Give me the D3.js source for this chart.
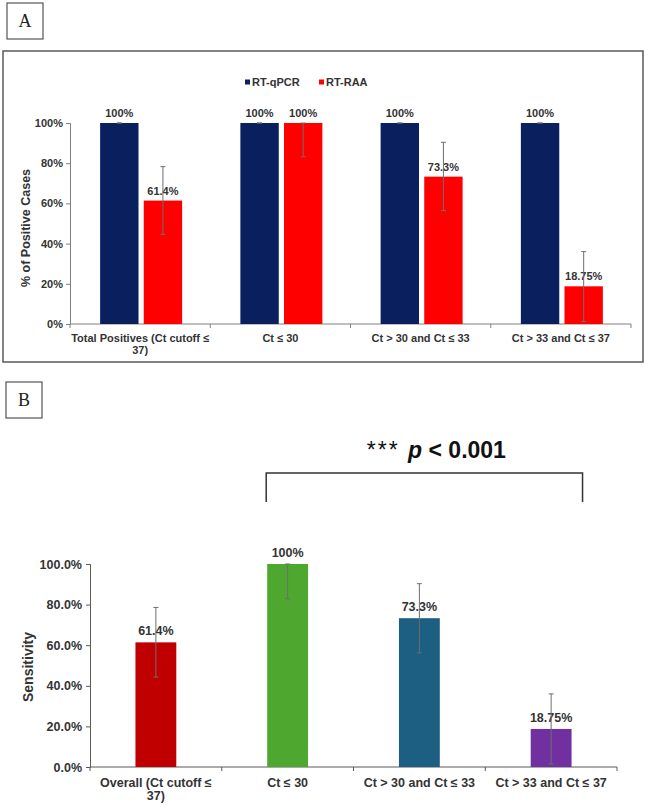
<!DOCTYPE html>
<html>
<head>
<meta charset="utf-8">
<script src="https://cdn.jsdelivr.net/npm/d3@7"></script>
<style>
  body { margin: 0; background: #fff; }
  svg { display: block; }
</style>
</head>
<body>
<div id="chart"></div>
<script>
// Panel A data
const categoriesA = ["Total Positives (Ct cutoff ≤\n37)", "Ct ≤ 30", "Ct > 30 and Ct ≤ 33", "Ct > 33 and Ct ≤ 37"];
const seriesA = ["RT-qPCR", "RT-RAA"];
const qpcrValues = [100, 100, 100, 100];
const qpcrLabels = ["100%", "100%", "100%", "100%"];
const raaValues = [61.4, 100, 73.3, 18.75];
const raaLabels = ["61.4%", "100%", "73.3%", "18.75%"];
const raaLow = [44.6, 83.2, 56.4, 1.2];
const raaHigh = [78.3, 100, 90.4, 36];
const ticksA = [0, 20, 40, 60, 80, 100];

// Panel B data
const categoriesB = ["Overall (Ct cutoff ≤\n37)", "Ct ≤ 30", "Ct > 30 and Ct ≤ 33", "Ct > 33 and Ct ≤ 37"];
const sensValues = [61.4, 100, 73.3, 18.75];
const sensLabels = ["61.4%", "100%", "73.3%", "18.75%"];
const sensLow = [44.3, 82.9, 56.2, 1.5];
const sensHigh = [78.6, 100, 90.3, 36];
const ticksB = [0, 20, 40, 60, 80, 100];
const pLabel = "p < 0.001";

const width = 650, height = 809;
const font = "'Liberation Sans', Arial, sans-serif";
const textColor = "#333";
const axisColor = "#808080";

const svg = d3.select("#chart").append("svg")
  .attr("width", width)
  .attr("height", height)
  .attr("font-family", font);

// panel letter boxes
function letterBox(x, y, s, letter) {
  svg.append("rect")
    .attr("x", x).attr("y", y).attr("width", s).attr("height", s)
    .attr("fill", "none").attr("stroke", "#555").attr("stroke-width", 1.2);
  svg.append("text")
    .attr("x", x + s / 2).attr("y", y + s / 2)
    .attr("dy", "0.36em")
    .attr("text-anchor", "middle")
    .attr("font-family", "'Liberation Serif', 'Times New Roman', serif")
    .attr("font-size", 18)
    .attr("fill", "#222")
    .text(letter);
}

letterBox(7, 3, 36, "A");
letterBox(6, 382, 36, "B");

// ---------------- Panel A ----------------
svg.append("rect")
  .attr("x", 3).attr("y", 51).attr("width", 640).attr("height", 311)
  .attr("fill", "none").attr("stroke", "#595959").attr("stroke-width", 1.5);

const colorA = d3.scaleOrdinal().domain(seriesA).range(["#0a1f5e", "#ff0000"]);

const xA = d3.scaleBand().domain(categoriesA).range([70, 631]);
const xA1 = d3.scaleBand().domain(seriesA)
  .range([xA.bandwidth() / 2 - 40, xA.bandwidth() / 2 + 42])
  .paddingInner(0.12);
const yA = d3.scaleLinear().domain([0, 100]).range([324, 123]);

const rowsA = categoriesA.map((c, i) => ({
  cat: c,
  bars: [
    { key: "RT-qPCR", value: qpcrValues[i], label: qpcrLabels[i], low: qpcrValues[i], high: qpcrValues[i] },
    { key: "RT-RAA", value: raaValues[i], label: raaLabels[i], low: raaLow[i], high: raaHigh[i] }
  ]
}));

// y axis
const yAxisA = svg.append("g")
  .attr("transform", "translate(70,0)")
  .call(d3.axisLeft(yA).tickValues(ticksA).tickSize(4).tickPadding(3).tickFormat(d => d + "%"));
yAxisA.select(".domain").attr("stroke", axisColor);
yAxisA.selectAll(".tick line").attr("stroke", axisColor);
yAxisA.selectAll(".tick text")
  .attr("font-family", font).attr("font-size", 11).attr("font-weight", "bold").attr("fill", textColor);

// x axis baseline and boundary ticks
svg.append("line")
  .attr("x1", 70).attr("x2", 631).attr("y1", yA(0)).attr("y2", yA(0))
  .attr("stroke", axisColor);
svg.append("g").selectAll("line")
  .data(d3.range(categoriesA.length + 1))
  .join("line")
  .attr("x1", i => 70 + i * xA.step()).attr("x2", i => 70 + i * xA.step())
  .attr("y1", yA(0)).attr("y2", yA(0) + 4)
  .attr("stroke", axisColor);

// category labels
svg.append("g").selectAll("text")
  .data(categoriesA)
  .join("text")
  .attr("text-anchor", "middle")
  .attr("font-size", 11).attr("font-weight", "bold").attr("fill", textColor)
  .each(function (d) {
    const t = d3.select(this);
    d.split("\n").forEach((line, k) => {
      t.append("tspan")
        .attr("x", xA(d) + xA.bandwidth() / 2)
        .attr("y", 342 + k * 11.5)
        .text(line);
    });
  });

// bars
const groupA = svg.append("g").selectAll("g")
  .data(rowsA)
  .join("g")
  .attr("transform", d => `translate(${xA(d.cat)},0)`);

groupA.selectAll("rect")
  .data(d => d.bars)
  .join("rect")
  .attr("x", d => xA1(d.key))
  .attr("width", xA1.bandwidth())
  .attr("y", d => yA(d.value))
  .attr("height", d => yA(0) - yA(d.value))
  .attr("fill", d => colorA(d.key));

groupA.selectAll("text.val")
  .data(d => d.bars)
  .join("text")
  .attr("class", "val")
  .attr("x", d => xA1(d.key) + xA1.bandwidth() / 2)
  .attr("y", d => yA(d.value) - 6)
  .attr("text-anchor", "middle")
  .attr("font-size", 11).attr("font-weight", "bold").attr("fill", textColor)
  .text(d => d.label);

// error bars
const errA = groupA.selectAll("g.err")
  .data(d => d.bars)
  .join("g")
  .attr("class", "err")
  .attr("stroke", "#6e6e6e")
  .attr("stroke-width", 1);
errA.append("line")
  .attr("x1", d => xA1(d.key) + xA1.bandwidth() / 2)
  .attr("x2", d => xA1(d.key) + xA1.bandwidth() / 2)
  .attr("y1", d => yA(d.low)).attr("y2", d => yA(d.high));
errA.selectAll("line.cap")
  .data(d => [d.low, d.high].map(v => ({ v, key: d.key })))
  .join("line")
  .attr("class", "cap")
  .attr("x1", d => xA1(d.key) + xA1.bandwidth() / 2 - 2.5)
  .attr("x2", d => xA1(d.key) + xA1.bandwidth() / 2 + 2.5)
  .attr("y1", d => yA(d.v)).attr("y2", d => yA(d.v));

// legend
const legendA = svg.append("g").attr("transform", "translate(245,82)");
const legItems = legendA.selectAll("g")
  .data(seriesA)
  .join("g")
  .attr("transform", (d, i) => `translate(${i * 74},0)`);
legItems.append("rect")
  .attr("x", 0).attr("y", -2.5).attr("width", 5).attr("height", 5)
  .attr("fill", d => colorA(d));
legItems.append("text")
  .attr("x", 7).attr("dy", "0.36em")
  .attr("font-size", 11).attr("font-weight", "bold").attr("fill", textColor)
  .text(d => d);

// y label
svg.append("text")
  .attr("transform", "translate(25,228) rotate(-90)")
  .attr("dy", "0.36em")
  .attr("text-anchor", "middle")
  .attr("font-size", 12.5).attr("font-weight", "bold").attr("fill", textColor)
  .text("% of Positive Cases");

// ---------------- Panel B ----------------
const colorsB = ["#c00000", "#4ea72e", "#1c5f82", "#7030a0"];
const xB = d3.scaleBand().domain(categoriesB).range([90, 617]).paddingInner(0.69).paddingOuter(0.345);
const yB = d3.scaleLinear().domain([0, 100]).range([767, 564]);
const stepB = (617 - 90) / categoriesB.length;

const rowsB = categoriesB.map((c, i) => ({
  cat: c, value: sensValues[i], label: sensLabels[i], low: sensLow[i], high: sensHigh[i], color: colorsB[i]
}));

const yAxisB = svg.append("g")
  .attr("transform", "translate(90,0)")
  .call(d3.axisLeft(yB).tickValues(ticksB).tickSize(4).tickPadding(4).tickFormat(d => d3.format(".1f")(d) + "%"));
yAxisB.select(".domain").attr("stroke", "#595959");
yAxisB.selectAll(".tick line").attr("stroke", "#595959");
yAxisB.selectAll(".tick text")
  .attr("font-family", font).attr("font-size", 12.5).attr("font-weight", "bold").attr("fill", textColor);

svg.append("line")
  .attr("x1", 90).attr("x2", 617).attr("y1", yB(0)).attr("y2", yB(0))
  .attr("stroke", "#595959");
svg.append("g").selectAll("line")
  .data(d3.range(categoriesB.length + 1))
  .join("line")
  .attr("x1", i => 90 + i * stepB).attr("x2", i => 90 + i * stepB)
  .attr("y1", yB(0)).attr("y2", yB(0) + 4)
  .attr("stroke", "#595959");

svg.append("g").selectAll("text")
  .data(categoriesB)
  .join("text")
  .attr("text-anchor", "middle")
  .attr("font-size", 12.5).attr("font-weight", "bold").attr("fill", textColor)
  .each(function (d) {
    const t = d3.select(this);
    d.split("\n").forEach((line, k) => {
      t.append("tspan")
        .attr("x", xB(d) + xB.bandwidth() / 2)
        .attr("y", 787 + k * 12.5)
        .text(line);
    });
  });

svg.append("g").selectAll("rect")
  .data(rowsB)
  .join("rect")
  .attr("x", d => xB(d.cat))
  .attr("width", xB.bandwidth())
  .attr("y", d => yB(d.value))
  .attr("height", d => yB(0) - yB(d.value))
  .attr("fill", d => d.color);

svg.append("g").selectAll("text")
  .data(rowsB)
  .join("text")
  .attr("x", d => xB(d.cat) + xB.bandwidth() / 2)
  .attr("y", d => yB(d.value) - 7)
  .attr("text-anchor", "middle")
  .attr("font-size", 12.5).attr("font-weight", "bold").attr("fill", textColor)
  .text(d => d.label);

const errB = svg.append("g")
  .attr("stroke", "#6e6e6e")
  .attr("stroke-width", 1)
  .selectAll("g")
  .data(rowsB)
  .join("g");
errB.append("line")
  .attr("x1", d => xB(d.cat) + xB.bandwidth() / 2)
  .attr("x2", d => xB(d.cat) + xB.bandwidth() / 2)
  .attr("y1", d => yB(d.low)).attr("y2", d => yB(d.high));
errB.selectAll("line.cap")
  .data(d => [d.low, d.high].map(v => ({ v, cat: d.cat })))
  .join("line")
  .attr("class", "cap")
  .attr("x1", d => xB(d.cat) + xB.bandwidth() / 2 - 2.5)
  .attr("x2", d => xB(d.cat) + xB.bandwidth() / 2 + 2.5)
  .attr("y1", d => yB(d.v)).attr("y2", d => yB(d.v));

svg.append("text")
  .attr("transform", "translate(28,667) rotate(-90)")
  .attr("dy", "0.36em")
  .attr("text-anchor", "middle")
  .attr("font-size", 14).attr("font-weight", "bold").attr("fill", textColor)
  .text("Sensitivity");

// significance bracket between "Ct ≤ 30" and "Ct > 33 and Ct ≤ 37"
const bx1 = xB(categoriesB[1]) - 1;
const bx2 = xB(categoriesB[3]) + xB.bandwidth() + 11;
svg.append("path")
  .attr("d", `M${bx1},502V473H${bx2}V502`)
  .attr("fill", "none")
  .attr("stroke", "#333")
  .attr("stroke-width", 1.5);

const sig = svg.append("text")
  .attr("x", (bx1 + bx2) / 2 + 12)
  .attr("y", 458)
  .attr("text-anchor", "middle")
  .attr("font-size", 23)
  .attr("fill", "#111");
sig.append("tspan").attr("font-weight", "normal").attr("letter-spacing", 2).text("*** ");
sig.append("tspan").attr("font-weight", "bold").attr("font-style", "italic").text(pLabel.slice(0, 1));
sig.append("tspan").attr("font-weight", "bold").text(pLabel.slice(1));
</script>
</body>
</html>
